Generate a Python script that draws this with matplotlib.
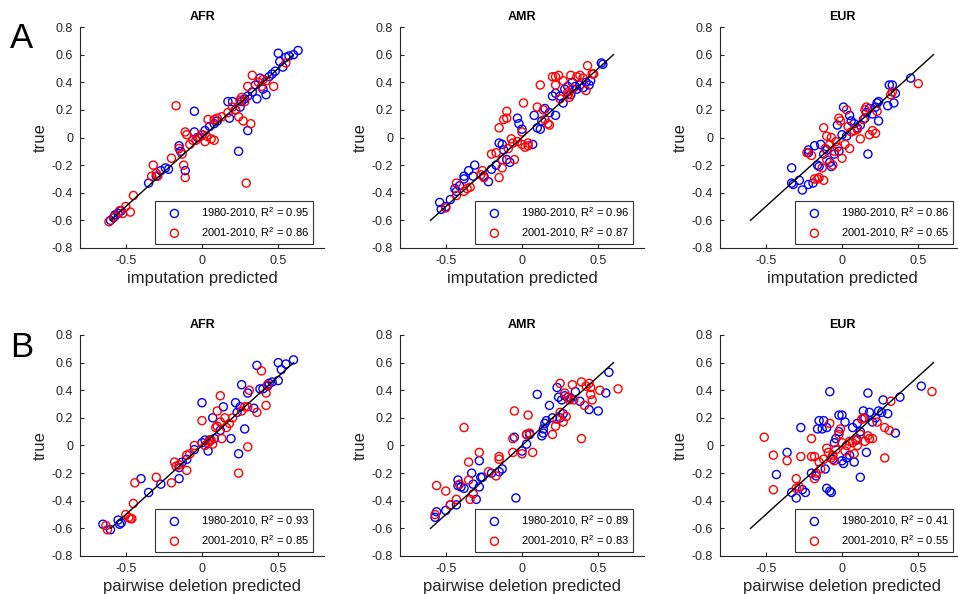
import numpy as np
import matplotlib
matplotlib.use('Agg')
import matplotlib.pyplot as plt

plt.rcParams['font.family'] = ['Liberation Sans', 'DejaVu Sans']
plt.rcParams['mathtext.fontset'] = 'custom'
plt.rcParams['mathtext.rm'] = 'Liberation Sans'
plt.rcParams['mathtext.it'] = 'Liberation Sans:italic'

regions = ['AFR', 'AMR', 'EUR']
methods = ['imputation predicted', 'pairwise deletion predicted']
periods = ['1980-2010', '2001-2010']

# R^2 per [method][region] = (1980-2010, 2001-2010)
r2 = [[(0.95, 0.86), (0.96, 0.87), (0.86, 0.65)],
      [(0.93, 0.85), (0.89, 0.83), (0.41, 0.55)]]

# (predicted, true) pairs
imp_afr_blue = [(-0.6, -0.6), (-0.58, -0.58), (-0.57, -0.56), (-0.55, -0.55), (-0.53, -0.53),
                (-0.35, -0.33), (-0.3, -0.28), (-0.27, -0.24), (-0.24, -0.22), (-0.22, -0.23),
                (-0.11, -0.24), (-0.15, -0.06), (-0.14, -0.1), (-0.05, 0.19), (-0.05, 0.04),
                (-0.03, 0.0), (0.0, 0.02), (0.02, 0.05), (0.05, 0.08), (0.08, 0.1), (0.1, 0.12),
                (0.17, 0.26), (0.18, 0.14), (0.2, 0.26), (0.22, 0.2), (0.25, 0.22), (0.24, -0.1),
                (0.3, 0.05), (0.26, 0.26), (0.28, 0.28), (0.3, 0.3), (0.33, 0.33), (0.35, 0.38),
                (0.36, 0.28), (0.38, 0.43), (0.4, 0.35), (0.42, 0.31), (0.44, 0.44), (0.46, 0.46),
                (0.48, 0.48), (0.5, 0.61), (0.51, 0.55), (0.53, 0.51), (0.55, 0.58), (0.57, 0.59),
                (0.6, 0.6), (0.63, 0.63)]
imp_afr_red = [(-0.61, -0.61), (-0.57, -0.57), (-0.54, -0.53), (-0.52, -0.55), (-0.5, -0.5),
               (-0.47, -0.54), (-0.45, -0.42), (-0.32, -0.2), (-0.33, -0.28), (-0.3, -0.26),
               (-0.29, -0.28), (-0.2, -0.15), (-0.17, 0.23), (-0.15, -0.08), (-0.13, -0.12),
               (-0.12, -0.2), (-0.11, -0.29), (-0.11, 0.04), (-0.1, 0.02), (-0.08, -0.05),
               (-0.06, -0.02), (-0.04, -0.02), (-0.02, 0.0), (0.0, 0.02), (0.02, -0.03),
               (0.03, 0.01), (0.04, 0.13), (0.06, -0.01), (0.08, 0.13), (0.08, -0.02),
               (0.1, 0.14), (0.13, 0.15), (0.17, 0.18), (0.2, 0.22), (0.22, 0.2), (0.24, 0.15),
               (0.25, 0.27), (0.27, 0.12), (0.29, -0.33), (0.32, 0.1), (0.33, 0.45), (0.3, 0.37),
               (0.28, 0.26), (0.37, 0.4), (0.4, 0.42), (0.39, 0.37), (0.42, 0.41), (0.47, 0.37),
               (0.55, 0.54), (0.26, 0.29)]

imp_amr_blue = [(-0.54, -0.47), (-0.53, -0.52), (-0.5, -0.5), (-0.47, -0.45), (-0.44, -0.37),
                (-0.43, -0.39), (-0.41, -0.35), (-0.38, -0.3), (-0.38, -0.28), (-0.35, -0.24),
                (-0.31, -0.2), (-0.32, -0.28), (-0.25, -0.28), (-0.22, -0.32), (-0.2, -0.23),
                (-0.17, -0.2), (-0.15, -0.04), (-0.13, -0.05), (-0.12, -0.09), (-0.1, -0.16),
                (-0.08, -0.18), (-0.03, 0.14), (-0.02, 0.1), (0.0, 0.06), (0.07, -0.05),
                (0.08, 0.16), (0.1, 0.07), (0.12, 0.06), (0.13, 0.12), (0.15, 0.21), (0.18, 0.18),
                (0.2, 0.3), (0.22, 0.32), (0.22, 0.16), (0.25, 0.3), (0.27, 0.25), (0.28, 0.35),
                (0.3, 0.37), (0.32, 0.31), (0.33, 0.4), (0.35, 0.37), (0.36, 0.35), (0.38, 0.38),
                (0.4, 0.36), (0.42, 0.4), (0.44, 0.38), (0.45, 0.41), (0.52, 0.54), (0.53, 0.53)]
imp_amr_red = [(-0.5, -0.51), (-0.43, -0.33), (-0.43, -0.42), (-0.38, -0.39), (-0.36, -0.37),
               (-0.34, -0.36), (-0.27, -0.27), (-0.26, -0.24), (-0.25, -0.29), (-0.2, -0.12),
               (-0.17, -0.11), (-0.15, -0.29), (-0.13, -0.22), (-0.13, -0.16), (-0.15, 0.07),
               (-0.12, 0.13), (-0.1, 0.19), (-0.1, 0.14), (-0.09, -0.08), (-0.07, -0.01),
               (-0.06, -0.04), (-0.05, -0.16), (-0.03, -0.03), (0.0, 0.04), (0.01, 0.25),
               (0.0, -0.05), (0.02, -0.07), (0.04, -0.06), (0.04, -0.04), (0.1, 0.22),
               (0.12, 0.38), (0.14, 0.2), (0.15, 0.13), (0.17, 0.1), (0.18, 0.09), (0.2, 0.44),
               (0.22, 0.44), (0.24, 0.45), (0.22, 0.38), (0.25, 0.28), (0.27, 0.41), (0.3, 0.31),
               (0.3, 0.33), (0.32, 0.45), (0.33, 0.35), (0.36, 0.44), (0.38, 0.45), (0.4, 0.43),
               (0.42, 0.34), (0.43, 0.52), (0.46, 0.46), (0.47, 0.46), (0.31, 0.29)]

imp_eur_blue = [(-0.33, -0.22), (-0.33, -0.33), (-0.32, -0.34), (-0.28, -0.31), (-0.26, -0.38),
                (-0.22, -0.34), (-0.22, -0.09), (-0.22, -0.11), (-0.19, -0.33), (-0.18, -0.06),
                (-0.16, -0.2), (-0.15, -0.21), (-0.14, -0.05), (-0.12, -0.12), (-0.1, -0.09),
                (-0.08, -0.18), (-0.07, -0.21), (-0.05, -0.12), (-0.03, 0.09), (-0.02, -0.1),
                (0.0, 0.02), (0.01, 0.22), (0.03, 0.01), (0.05, 0.16), (0.06, 0.12), (0.08, 0.1),
                (0.1, 0.07), (0.12, 0.09), (0.15, 0.14), (0.16, 0.18), (0.17, -0.12), (0.18, 0.21),
                (0.2, 0.17), (0.22, 0.22), (0.23, 0.25), (0.24, 0.26), (0.24, 0.12), (0.3, 0.23),
                (0.31, 0.38), (0.33, 0.38), (0.34, 0.25), (0.35, 0.32), (0.45, 0.43)]
imp_eur_red = [(-0.23, -0.11), (-0.2, -0.13), (-0.18, -0.3), (-0.16, -0.3), (-0.15, -0.29),
               (-0.12, -0.31), (-0.13, -0.22), (-0.12, 0.07), (-0.1, 0.01), (-0.1, -0.16),
               (-0.08, -0.05), (-0.07, 0.0), (-0.06, -0.2), (-0.05, -0.1), (-0.04, -0.03),
               (-0.02, 0.14), (-0.01, 0.12), (0.0, -0.15), (0.02, -0.05), (0.03, 0.2),
               (0.04, 0.08), (0.05, -0.08), (0.06, 0.04), (0.08, 0.05), (0.1, 0.06), (0.12, -0.01),
               (0.14, 0.13), (0.15, 0.2), (0.16, 0.22), (0.18, 0.02), (0.2, 0.05), (0.22, 0.03),
               (0.23, 0.19), (0.32, 0.31), (0.33, 0.33), (0.5, 0.39), (-0.11, -0.08), (-0.03, -0.07)]

pw_afr_blue = [(-0.65, -0.57), (-0.6, -0.61), (-0.55, -0.54), (-0.54, -0.57), (-0.53, -0.56),
               (-0.4, -0.24), (-0.35, -0.34), (-0.27, -0.28), (-0.15, -0.24), (-0.15, -0.16),
               (-0.13, -0.12), (-0.1, -0.1), (-0.05, -0.03), (0.0, 0.31), (0.0, 0.02), (0.02, 0.04),
               (0.04, -0.04), (0.05, 0.04), (0.07, 0.2), (0.08, 0.05), (0.12, 0.11), (0.14, 0.28),
               (0.19, 0.05), (0.22, 0.31), (0.23, 0.24), (0.24, -0.06), (0.25, 0.28), (0.26, 0.44),
               (0.28, 0.12), (0.3, 0.38), (0.34, 0.27), (0.36, 0.58), (0.38, 0.41), (0.4, 0.41),
               (0.44, 0.45), (0.46, 0.46), (0.5, 0.6), (0.5, 0.47), (0.52, 0.55), (0.55, 0.59),
               (0.6, 0.62), (0.43, 0.43)]
pw_afr_red = [(-0.63, -0.58), (-0.62, -0.61), (-0.5, -0.5), (-0.48, -0.52), (-0.47, -0.53),
              (-0.46, -0.53), (-0.45, -0.42), (-0.44, -0.27), (-0.3, -0.23), (-0.2, -0.27),
              (-0.18, -0.12), (-0.17, -0.15), (-0.15, -0.14), (-0.1, -0.18), (-0.1, -0.07),
              (-0.08, -0.06), (-0.05, 0.0), (0.0, 0.18), (0.02, 0.0), (0.04, 0.02), (0.05, 0.03),
              (0.06, 0.04), (0.07, 0.01), (0.09, 0.13), (0.1, 0.25), (0.1, 0.14), (0.12, 0.17),
              (0.12, 0.36), (0.13, 0.05), (0.15, 0.2), (0.16, 0.13), (0.18, 0.16), (0.2, 0.2),
              (0.24, -0.2), (0.26, 0.25), (0.28, 0.28), (0.3, 0.28), (0.31, 0.4), (0.3, -0.01),
              (0.36, 0.24), (0.39, 0.54), (0.42, 0.38), (0.42, 0.29), (0.43, 0.44)]

pw_amr_blue = [(-0.57, -0.52), (-0.56, -0.48), (-0.5, -0.47), (-0.47, -0.43), (-0.43, -0.43),
               (-0.42, -0.25), (-0.42, -0.29), (-0.4, -0.3), (-0.38, -0.31), (-0.33, -0.2),
               (-0.32, -0.28), (-0.3, -0.39), (-0.28, -0.11), (-0.27, -0.23), (-0.26, -0.23),
               (-0.28, -0.3), (-0.2, -0.2), (-0.15, -0.19), (-0.13, -0.17), (-0.05, 0.06),
               (-0.04, -0.38), (0.0, -0.04), (0.03, 0.01), (0.03, 0.08), (0.05, 0.08), (0.1, 0.37),
               (0.13, 0.07), (0.14, 0.09), (0.14, 0.12), (0.15, 0.16), (0.16, 0.18), (0.18, 0.29),
               (0.2, 0.2), (0.23, 0.42), (0.24, 0.35), (0.25, 0.2), (0.26, 0.33), (0.27, 0.23),
               (0.28, 0.36), (0.3, 0.35), (0.32, 0.34), (0.35, 0.39), (0.38, 0.32), (0.44, 0.26),
               (0.5, 0.25), (0.55, 0.38), (0.57, 0.53)]
pw_amr_red = [(-0.57, -0.5), (-0.56, -0.29), (-0.5, -0.33), (-0.47, -0.43), (-0.43, -0.39),
              (-0.41, -0.28), (-0.38, 0.13), (-0.35, -0.12), (-0.35, -0.25), (-0.34, -0.39),
              (-0.32, -0.35), (-0.28, -0.05), (-0.22, -0.19), (-0.17, -0.22), (-0.15, -0.1),
              (-0.15, -0.08), (-0.06, 0.05), (-0.06, -0.05), (-0.05, 0.25), (0.0, -0.06),
              (0.03, 0.08), (0.04, 0.22), (0.05, 0.09), (0.07, -0.05), (0.2, 0.08), (0.22, 0.14),
              (0.23, 0.19), (0.25, 0.45), (0.25, 0.24), (0.27, 0.17), (0.28, 0.38), (0.29, 0.21),
              (0.3, 0.35), (0.31, 0.33), (0.33, 0.44), (0.34, 0.33), (0.39, 0.46), (0.39, 0.05),
              (0.41, 0.29), (0.42, 0.43), (0.44, 0.45), (0.45, 0.42), (0.45, 0.37), (0.46, 0.33),
              (0.51, 0.4), (0.63, 0.41)]

pw_eur_blue = [(-0.43, -0.21), (-0.36, -0.05), (-0.33, -0.34), (-0.3, -0.38), (-0.27, 0.13),
               (-0.26, -0.32), (-0.24, -0.34), (-0.2, -0.2), (-0.17, -0.22), (-0.16, 0.12),
               (-0.15, 0.18), (-0.13, 0.12), (-0.12, 0.18), (-0.11, -0.17), (-0.1, 0.13),
               (-0.1, -0.31), (-0.08, 0.39), (-0.08, -0.33), (-0.07, -0.34), (-0.06, -0.1),
               (-0.05, 0.02), (-0.04, 0.05), (-0.02, 0.22), (-0.02, 0.1), (0.0, 0.22), (0.0, -0.11),
               (0.01, -0.13), (0.02, 0.17), (0.03, -0.09), (0.05, -0.07), (0.07, 0.13),
               (0.08, -0.12), (0.1, 0.16), (0.1, 0.04), (0.12, 0.1), (0.12, -0.23), (0.14, 0.25),
               (0.15, 0.2), (0.16, -0.05), (0.17, 0.38), (0.18, 0.24), (0.2, 0.17), (0.22, 0.2),
               (0.24, 0.25), (0.26, 0.24), (0.27, 0.33), (0.3, 0.23), (0.35, 0.09), (0.38, 0.35),
               (0.52, 0.43)]
pw_eur_red = [(-0.51, 0.06), (-0.45, -0.07), (-0.45, -0.32), (-0.36, -0.11), (-0.3, -0.24),
              (-0.3, -0.31), (-0.28, -0.3), (-0.27, -0.08), (-0.2, 0.05), (-0.2, -0.08),
              (-0.18, -0.08), (-0.18, -0.24), (-0.17, -0.2), (-0.15, -0.12), (-0.14, -0.17),
              (-0.12, -0.1), (-0.1, -0.02), (-0.09, -0.05), (-0.08, 0.16), (-0.07, -0.09),
              (-0.06, -0.07), (-0.05, -0.11), (-0.04, -0.03), (-0.02, 0.08), (-0.01, 0.12),
              (0.0, 0.02), (0.02, -0.04), (0.03, 0.0), (0.05, 0.03), (0.07, 0.02), (0.08, -0.06),
              (0.09, 0.04), (0.1, 0.0), (0.12, 0.08), (0.13, 0.19), (0.14, 0.2), (0.15, 0.03),
              (0.17, 0.07), (0.18, 0.05), (0.2, 0.05), (0.23, 0.17), (0.28, -0.09), (0.28, 0.13),
              (0.31, 0.11), (0.32, 0.32), (0.59, 0.39)]

data = [[(imp_afr_blue, imp_afr_red), (imp_amr_blue, imp_amr_red), (imp_eur_blue, imp_eur_red)],
        [(pw_afr_blue, pw_afr_red), (pw_amr_blue, pw_amr_red), (pw_eur_blue, pw_eur_red)]]

yticks = [-0.8, -0.6, -0.4, -0.2, 0, 0.2, 0.4, 0.6, 0.8]
ytick_labels = ['-0.8', '-0.6', '-0.4', '-0.2', '0', '0.2', '0.4', '0.6', '0.8']

W, H = 958, 594
fig = plt.figure(figsize=(W / 100, H / 100), dpi=100)

lefts = [80, 400, 720]
tops = [27, 335]
aw, ah = 244, 221
axcol = '#262626'

for r in range(2):
    for c in range(3):
        ax = fig.add_axes([lefts[c] / W, 1 - (tops[r] + ah) / H, aw / W, ah / H])
        blue, red = data[r][c]
        blue = np.array(blue)
        red = np.array(red)
        ax.scatter(blue[:, 0], blue[:, 1], s=34, facecolors='none', edgecolors='#0000ff',
                   linewidths=1.0, label='%s, R$^2$ = %.2f' % (periods[0], r2[r][c][0]), zorder=3)
        ax.scatter(red[:, 0], red[:, 1], s=34, facecolors='none', edgecolors='#ff0000',
                   linewidths=1.0, label='%s, R$^2$ = %.2f' % (periods[1], r2[r][c][1]), zorder=3)
        ax.plot([-0.6, 0.6], [-0.6, 0.6], color='k', lw=1.0, zorder=4)
        ax.set_xlim(-0.8, 0.8)
        ax.set_ylim(-0.8, 0.8)
        ax.set_xticks([-0.5, 0, 0.5])
        ax.set_xticklabels(['-0.5', '0', '0.5'])
        ax.set_yticks(yticks)
        ax.set_yticklabels(ytick_labels)
        ax.spines['top'].set_visible(False)
        ax.spines['right'].set_visible(False)
        ax.spines['left'].set_color(axcol)
        ax.spines['bottom'].set_color(axcol)
        ax.tick_params(direction='in', length=3, labelsize=9, colors=axcol, pad=5)
        ax.set_title(regions[c], fontsize=9, fontweight='bold', pad=5)
        ax.set_xlabel(methods[r], fontsize=12, color=axcol, labelpad=3)
        ax.set_ylabel('true', fontsize=12, color=axcol, labelpad=3)
        leg = ax.legend(loc='lower right', bbox_to_anchor=(0.955, 0.02), fontsize=8,
                        frameon=True, fancybox=False, edgecolor='k', borderaxespad=0,
                        handletextpad=1.0, borderpad=0.35, labelspacing=0.45, handlelength=2.8)
        leg.get_frame().set_linewidth(0.8)

fig.text(10 / W, 1 - 48 / H, 'A', fontsize=25)
fig.text(10 / W, 1 - 357 / H, 'B', fontsize=25)

fig.savefig('out.png', dpi=100)
